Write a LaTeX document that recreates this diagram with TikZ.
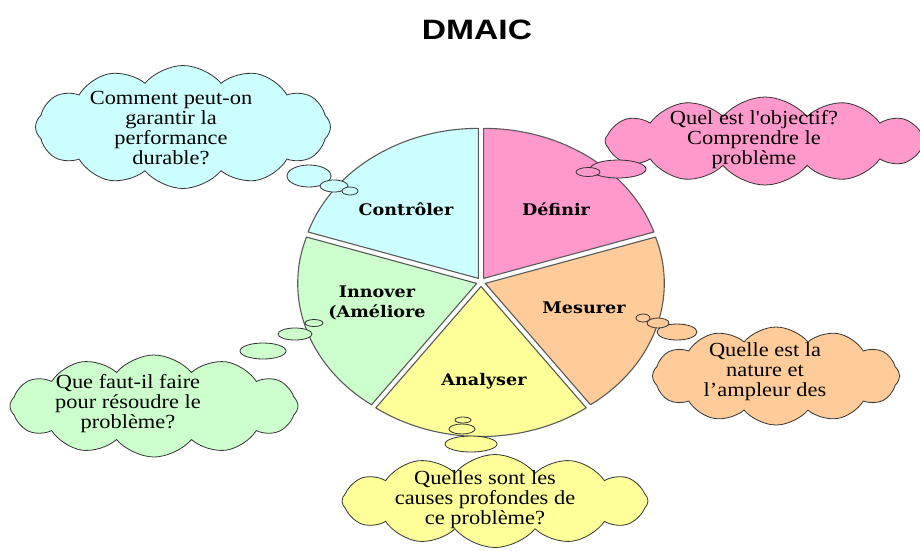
\documentclass[tikz,border=0pt]{standalone}
\usepackage{fontspec}
\setmainfont{Liberation Serif}
\newfontfamily\labelfont{DejaVu Serif}
\newfontfamily\titlefont{Liberation Sans}
\usetikzlibrary{shapes.symbols}
\definecolor{pinkc}{HTML}{FF99CC}
\definecolor{cyanc}{HTML}{CCFFFF}
\definecolor{greenc}{HTML}{CCFFCC}
\definecolor{yellowc}{HTML}{FFFF99}
\definecolor{orangec}{HTML}{FFCC99}
\begin{document}
\begin{tikzpicture}[x=1pt,y=1pt,
  sector/.style={draw=black!65, line width=1.1pt, line join=round},
  cloudbox/.style={cloud, cloud puffs=12, cloud puff arc=100, cloud ignores aspect, draw=black!80, line width=0.8pt, inner sep=0pt},
  bubble/.style={draw=black!80, line width=0.8pt},
  seclabel/.style={font=\labelfont\bfseries\fontsize{16}{20}\selectfont, align=center, xscale=1.1, inner sep=0pt},
  cloudtext/.style={font=\fontsize{20}{20}\selectfont, align=center, xscale=1.12, inner sep=0pt},
]
\useasboundingbox (0,0) rectangle (920,-550);
\fill[white] (0,0) rectangle (920,-550);

% title
\node[font=\titlefont\bfseries\fontsize{28}{30}\selectfont, xscale=1.2] (title) at (477,-30) {DMAIC};

% pie
\def\cx{481}\def\cy{-282}
\foreach \a/\col in {18/pinkc, 90/cyanc, 162/greenc, 234/yellowc, 306/orangec} {
  \pgfmathsetmacro\b{\a+72}
  \pgfmathsetmacro\m{\a+36}
  \draw[sector, fill=\col, shift={(\m:4.5)}] (\cx,\cy) -- ++(\a:179 and 150)
     arc[start angle=\a, end angle=\b, x radius=179, y radius=150] -- cycle;
}

% clouds
\node[cloudbox, fill=cyanc, minimum width=295pt, minimum height=123pt] (cloudC) at (183,-127) {};
\node[cloudbox, fill=pinkc, minimum width=320pt, minimum height=88pt] (cloudD) at (765,-141) {};
\node[cloudbox, fill=greenc, minimum width=288pt, minimum height=102pt] (cloudI) at (154,-406) {};
\node[cloudbox, fill=orangec, minimum width=247pt, minimum height=98pt] (cloudM) at (776,-376) {};
\node[cloudbox, fill=yellowc, minimum width=306pt, minimum height=93pt] (cloudA) at (495,-501) {};

% thought bubbles
\draw[bubble, fill=cyanc] (309,-176) ellipse [x radius=22, y radius=11];
\draw[bubble, fill=cyanc] (334,-186) ellipse [x radius=14, y radius=6];
\draw[bubble, fill=cyanc] (350,-191) ellipse [x radius=8, y radius=4];

\draw[bubble, fill=pinkc] (618,-169) ellipse [x radius=28, y radius=9];
\draw[bubble, fill=pinkc] (588,-172) ellipse [x radius=12, y radius=4.5];

\draw[bubble, fill=orangec] (677,-332) ellipse [x radius=20, y radius=8];
\draw[bubble, fill=orangec] (658,-323) ellipse [x radius=11, y radius=5];
\draw[bubble, fill=orangec] (643,-318) ellipse [x radius=7, y radius=4];

\draw[bubble, fill=greenc] (263,-351) ellipse [x radius=23, y radius=8];
\draw[bubble, fill=greenc] (295,-334) ellipse [x radius=17, y radius=6];
\draw[bubble, fill=greenc] (314,-323) ellipse [x radius=9, y radius=3.5];

\draw[bubble, fill=yellowc] (471,-444) ellipse [x radius=26, y radius=8];
\draw[bubble, fill=yellowc] (462,-429) ellipse [x radius=13, y radius=5];
\draw[bubble, fill=yellowc] (463,-420) ellipse [x radius=8, y radius=3];

% sector labels
\node[seclabel] (lC) at (406,-209) {Contrôler};
\node[seclabel] (lD) at (556,-209) {Définir};
\node[seclabel] (lI) at (377,-303) {Innover\\(Améliore};
\node[seclabel] (lM) at (584,-308) {Mesurer};
\node[seclabel] (lA) at (484,-381) {Analyser};

% cloud texts
\node[cloudtext] (tC) at (171,-128) {Comment peut-on\\garantir la\\performance\\durable?};
\node[cloudtext] (tD) at (754,-140) {Quel est l\textquotesingle objectif?\\Comprendre le\\problème};
\node[cloudtext] (tI) at (128,-404) {Que faut-il faire\\pour résoudre le\\problème?};
\node[cloudtext] (tM) at (765,-372) {Quelle est la\\nature et\\l’ampleur des};
\node[cloudtext] (tA) at (485,-500) {Quelles sont les\\causes profondes de\\ce problème?};
\end{tikzpicture}
\end{document}
